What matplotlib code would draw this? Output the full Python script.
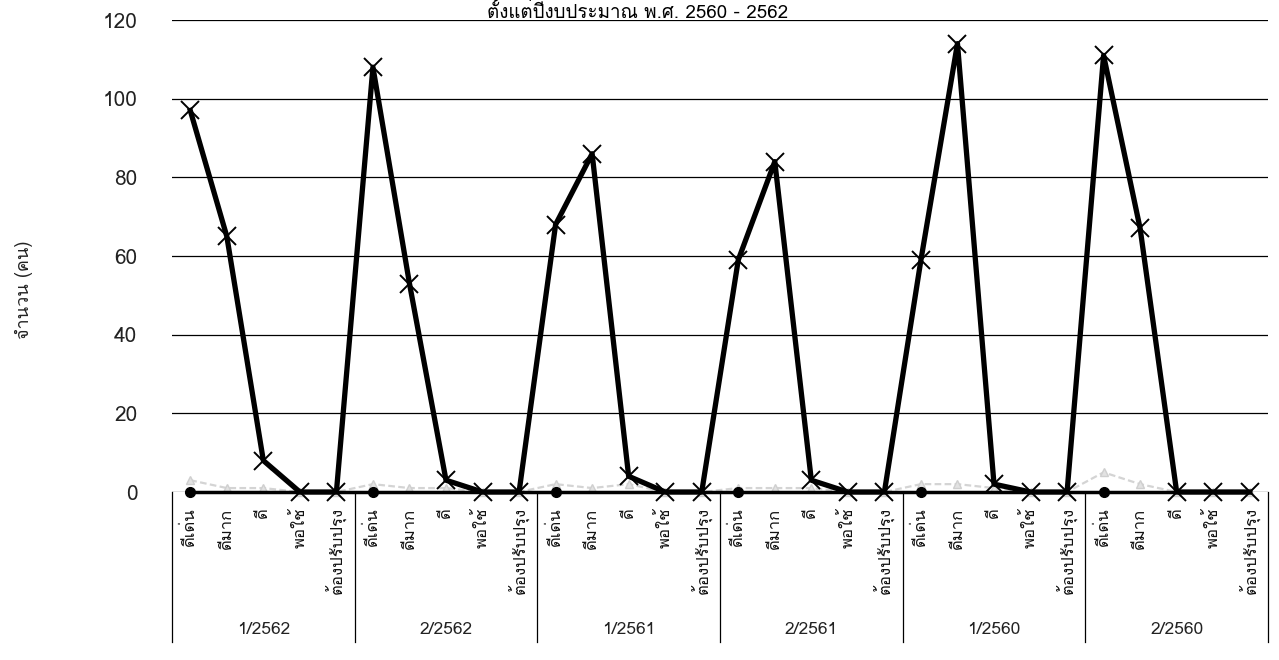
import matplotlib
matplotlib.use("Agg")
import matplotlib.pyplot as plt
import matplotlib.transforms as mtransforms
from matplotlib import font_manager
from matplotlib.ft2font import FT2Font

# ---- data -------------------------------------------------------------
levels = ["ดีเด่น", "ดีมาก", "ดี", "พอใช้", "ต้องปรับปรุง"]
terms = ["1/2562", "2/2562", "1/2561", "2/2561", "1/2560", "2/2560"]

students = [97, 65, 8, 0, 0,
            108, 53, 3, 0, 0,
            68, 86, 4, 0, 0,
            59, 84, 3, 0, 0,
            59, 114, 2, 0, 0,
            111, 67, 0, 0, 0]
baseline_series = [0] * 30
faint_series = [3, 1, 1, 0, 0,
                2, 1, 1, 0, 0,
                2, 1, 2, 0, 0,
                1, 1, 1, 0, 0,
                2, 2, 1, 0, 0,
                5, 2, 0, 0, 0]

yticks = [0, 20, 40, 60, 80, 100, 120]
title = "ตั้งแต่ปีงบประมาณ พ.ศ. 2560 - 2562"
ylabel = "จำนวน (คน)"


def thai_family():
    for f in font_manager.fontManager.ttflist:
        try:
            if 0x0E01 in FT2Font(f.fname).get_charmap():
                return f.name
        except Exception:
            continue
    return "DejaVu Sans"


fam = thai_family()
plt.rcParams["font.family"] = [fam, "DejaVu Sans"]

W, H = 1279, 660
fig = plt.figure(figsize=(W / 100, H / 100), dpi=100)
L, R, T, B = 172, 1268, 20, 492
ax = fig.add_axes([L / W, 1 - B / H, (R - L) / W, (B - T) / H])

n = len(levels) * len(terms)
x = list(range(n))
xlabels = levels * len(terms)

ax.set_xlim(-0.5, n - 0.5)
ax.set_ylim(0, 120)
ax.set_yticks(yticks)
ax.set_yticklabels([str(v) for v in yticks], fontsize=15, color="#222222")
ax.tick_params(axis="y", length=0, pad=25)
ax.set_xticks(x)
ax.set_xticklabels(xlabels, rotation=90, fontsize=12, va="top", ha="center",
                   color="#111111")
ax.tick_params(axis="x", length=0, pad=11)
for s in ax.spines.values():
    s.set_visible(False)
ax.grid(axis="y", color="black", linewidth=0.9)
ax.set_axisbelow(True)

# faint grey series near zero
ax.plot(x, faint_series, color="#d4d4d4", linewidth=1.6, linestyle=(0, (3, 1.5)),
        marker="^", markersize=6, markerfacecolor="#e2e2e2", markeredgecolor="#cfcfcf",
        zorder=2, clip_on=False)
# zero series with dot markers
ax.plot(x, baseline_series, color="black", linewidth=2.5, marker="o", markersize=7,
        markevery=5, zorder=3, clip_on=False)
# main series
ax.plot(x, students, color="black", linewidth=3.8, marker="x", markersize=13,
        markeredgewidth=1.4, zorder=4, clip_on=False)

# group separators and term labels below the axis
trans = mtransforms.blended_transform_factory(ax.transData, ax.transAxes)
depth = (642 - 492) / (B - T)
for k in range(len(terms) + 1):
    xb = k * len(levels) - 0.5
    ax.plot([xb, xb], [0, -depth], transform=trans, color="black", linewidth=0.9,
            clip_on=False)
for k, t in enumerate(terms):
    xc = k * len(levels) + (len(levels) - 1) / 2
    ax.text(xc, -(630 - 492) / (B - T), t, transform=trans, ha="center",
            va="center", fontsize=12.5, color="#222222")

fig.text(638 / W, 1 - 0.5 / H, title, ha="center", va="top", fontsize=13.5,
         color="black")
fig.text(24 / W, 1 - 290 / H, ylabel, rotation=90, ha="center", va="center",
         fontsize=13, color="#222222")

fig.savefig("out.png", dpi=100)
